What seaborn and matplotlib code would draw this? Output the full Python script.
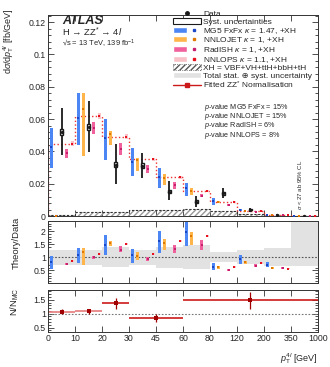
import numpy as np
import matplotlib
matplotlib.use("Agg")
import matplotlib.pyplot as plt
from matplotlib.patches import Patch
from matplotlib.lines import Line2D
from matplotlib.legend_handler import HandlerTuple
from matplotlib.ticker import MultipleLocator, FormatStrFormatter
import seaborn as sns

sns.set_theme(style="ticks")
plt.rcParams["font.family"] = ["Liberation Sans", "DejaVu Sans"]
plt.rcParams["mathtext.fontset"] = "custom"
plt.rcParams["mathtext.rm"] = "Liberation Sans"
plt.rcParams["mathtext.it"] = "Liberation Sans:italic"
plt.rcParams["mathtext.bf"] = "Liberation Sans:bold"

# bin edges (GeV), drawn with equal width
edge_labels = ["0", "10", "20", "30", "45", "60", "80", "120", "200", "350", "1000"]

# measured cross section [fb/GeV]
data = [0.052, 0.0552, 0.0317, 0.0311, 0.015, 0.0089, 0.0141, 0.0038, 0.0008, 0.00005]
data_lo = [0.0375, 0.0396, 0.0198, 0.0237, 0.010, 0.0054, 0.011, 0.0027, 0.0004, 0.0]
data_hi = [0.067, 0.0715, 0.0448, 0.039, 0.0214, 0.0125, 0.0172, 0.0050, 0.0013, 0.0002]
data_syst = [0.002, 0.002, 0.0015, 0.0015, 0.001, 0.0008, 0.0008, 0.0003, 0.0001, 0.0]

# predictions
mg5 = [0.0427, 0.0608, 0.048, 0.0336, 0.0243, 0.0171, 0.0094, 0.0036, 0.0006, 0.00003]
mg5_lo = [0.0298, 0.0438, 0.0344, 0.0245, 0.0175, 0.0125, 0.0069, 0.0029, 0.0005, 0.00002]
mg5_hi = [0.0542, 0.076, 0.0598, 0.042, 0.030, 0.0205, 0.0111, 0.0042, 0.0008, 0.00004]
nnlojet = [0.0, 0.066, 0.0506, 0.0347, 0.0233, 0.0157, 0.0089, 0.0031, 0.0005, 0.00003]
nnlojet_lo = [0.0, 0.037, 0.0438, 0.028, 0.019, 0.0131, 0.0083, 0.0028, 0.0004, 0.00002]
nnlojet_hi = [0.0, 0.076, 0.0525, 0.036, 0.026, 0.0171, 0.0095, 0.0034, 0.0006, 0.00004]
radish = [0.039, 0.0547, 0.0415, 0.029, 0.019, 0.0127, 0.0069, 0.0027, 0.0005, 0.00003]
radish_lo = [0.036, 0.051, 0.038, 0.0264, 0.017, 0.0117, 0.0063, 0.0024, 0.0004, 0.00002]
radish_hi = [0.0417, 0.0583, 0.045, 0.0316, 0.021, 0.0137, 0.0075, 0.0030, 0.0006, 0.00004]
nnlops = [0.0448, 0.062, 0.049, 0.035, 0.024, 0.0157, 0.0087, 0.0034, 0.0006, 0.00003]
nnlops_err = [0.0015, 0.002, 0.0015, 0.0012, 0.0008, 0.0006, 0.0004, 0.0002, 0.0001, 0.0]
xh = [0.0004, 0.0025, 0.0027, 0.0035, 0.0040, 0.0042, 0.0033, 0.0012, 0.0003, 0.00002]

# theory / data
r_mg5 = [0.82, 1.10, 1.49, 1.08, 1.64, 1.96, 0.64, 0.95, 0.72]
r_mg5_lo = [0.57, 0.78, 1.08, 0.78, 1.17, 1.45, 0.50, 0.76, 0.62]
r_mg5_hi = [1.04, 1.36, 1.85, 1.33, 2.00, 2.35, 0.78, 1.10, 0.82]
r_nnlojet = [np.nan, 1.19, 1.55, 1.06, 1.55, 1.81, 0.62, 0.81, 0.59]
r_nnlojet_lo = [np.nan, 0.69, 1.42, 0.88, 1.27, 1.49, 0.56, 0.75, 0.55]
r_nnlojet_hi = [np.nan, 1.36, 1.62, 1.19, 1.72, 1.96, 0.68, 0.87, 0.63]
r_radish = [0.75, 1.00, 1.30, 0.92, 1.33, 1.46, 0.50, 0.68, 0.59]
r_radish_lo = [0.70, 0.95, 1.19, 0.85, 1.17, 1.27, 0.46, 0.63, 0.55]
r_radish_hi = [0.80, 1.05, 1.42, 1.00, 1.49, 1.65, 0.54, 0.73, 0.63]
r_nnlops = [0.85, 1.13, 1.53, 1.13, 1.62, 1.83, 0.62, 0.78, 0.57]
r_nnlops_err = [0.04, 0.04, 0.04, 0.04, 0.04, 0.04, 0.03, 0.03, 0.03]
r_total_lo = [0.72, 0.72, 0.62, 0.72, 0.60, 0.55, 0.81, 0.75, 0.68, 0.68]
r_total_hi = [1.30, 1.30, 1.40, 1.30, 1.40, 1.49, 1.19, 1.27, 1.36, 2.40]

# fitted ZZ* normalisation, regions given as bin index ranges
nn_start = [0, 1, 2, 3, 5]
nn_stop = [1, 2, 3, 5, 10]
nn_val = [1.07, 1.08, 1.37, 0.84, 1.48]
nn_err = [0.10, 0.10, 0.20, 0.13, 0.30]
nn_line_col = ["#e57b7b", "#e57b7b", "#cc1a1a", "#cc1a1a", "#cc1a1a"]

c_mg5, c_mg5_d = "#4c86f5", "#1c46c8"
c_nnlojet, c_nnlojet_d = "#ffb54a", "#e07800"
c_radish, c_radish_d = "#f0609c", "#c8206f"
c_nnlops, c_nnlops_d = "#f9c2c8", "#e8101c"
c_grey = "#e2e2e2"

nb = len(data)
idx = np.arange(nb)
w = 0.11
off = {"mg5": 0.12, "nnlojet": 0.31, "data": 0.5, "radish": 0.7, "nnlops": 0.9}

fig = plt.figure(figsize=(3.3, 3.67), dpi=100)
ax1 = fig.add_axes([0.1455, 0.4114, 0.818, 0.548])
ax2 = fig.add_axes([0.1455, 0.228, 0.818, 0.170])
ax3 = fig.add_axes([0.1455, 0.0962, 0.818, 0.1136])


def pred(ax, x, val, lo, hi, c, cd, ms=1.6):
    lo = np.asarray(lo, float)
    hi = np.asarray(hi, float)
    ax.bar(x, hi - lo, bottom=lo, width=w, color=c, linewidth=0, zorder=3)
    sns.scatterplot(x=x, y=val, ax=ax, color=cd, marker="s", s=ms, linewidth=0, zorder=4, legend=False)


### main panel
edges = np.arange(nb + 1)
ax1.stairs(xh, edges, fill=True, facecolor="none", edgecolor="#999999", hatch="//////", linewidth=0, zorder=1)
ax1.stairs(xh, edges, color="#333333", linestyle=(0, (2, 1.5)), linewidth=0.8, zorder=2)
ax1.stairs(nnlops, edges, color="#ee3030", linestyle=":", linewidth=1.0, zorder=2)

pred(ax1, idx + off["mg5"], mg5, mg5_lo, mg5_hi, c_mg5, c_mg5_d)
pred(ax1, idx + off["nnlojet"], nnlojet, nnlojet_lo, nnlojet_hi, c_nnlojet, c_nnlojet_d)
pred(ax1, idx + off["radish"], radish, radish_lo, radish_hi, c_radish, c_radish_d)
pred(ax1, idx + off["nnlops"], nnlops, np.subtract(nnlops, nnlops_err), np.add(nnlops, nnlops_err),
     c_nnlops, c_nnlops_d, ms=4)

xd = idx + off["data"]
ax1.errorbar(xd, data, yerr=[np.subtract(data, data_lo), np.subtract(data_hi, data)],
             fmt="none", ecolor="k", elinewidth=1.3, zorder=5)
ax1.bar(xd, np.multiply(data_syst, 2), bottom=np.subtract(data, data_syst), width=0.13,
        facecolor="white", edgecolor="k", linewidth=1.0, zorder=6)
sns.scatterplot(x=xd, y=data, ax=ax1, color="k", marker="o", s=6, linewidth=0, zorder=7, legend=False)

ax1.set_xlim(0, nb)
ax1.set_ylim(0, 0.1245)
ax1.yaxis.set_major_locator(MultipleLocator(0.02))
ax1.yaxis.set_minor_locator(MultipleLocator(0.004))
ax1.yaxis.set_major_formatter(FormatStrFormatter("%g"))
ax1.set_ylabel(r"d$\sigma$/d$p_{\mathrm{T}}^{4l}$ [fb/GeV]", fontsize=6.5)
ax1.yaxis.set_label_coords(-0.118, 0.87)

ax1.text(0.051, 0.972, "ATLAS", transform=ax1.transAxes, fontsize=9, weight="bold", style="italic", va="center")
ax1.text(0.051, 0.911, r"H → ZZ$^{*}$ → 4$l$", transform=ax1.transAxes, fontsize=6.8, va="center")
ax1.text(0.051, 0.858, "√s = 13 TeV, 139 fb$^{-1}$", transform=ax1.transAxes, fontsize=5.4, va="center")

pvals = ["$p$-value MG5 FxFx = 15%", "$p$-value NNLOJET = 15%", "$p$-value RadISH = 6%", "$p$-value NNLOPS = 8%"]
for i, t in enumerate(pvals):
    ax1.text(0.578, 0.542 - i * 0.047, t, transform=ax1.transAxes, fontsize=5.2, va="center")

ax1.text(9.33, 0.0192, r"$\sigma$ < 27 ab 95% CL", rotation=90, fontsize=4.3, ha="center", va="center")

handles = [
    Line2D([], [], color="k", marker="o", markersize=2.5, linestyle="none"),
    Patch(facecolor="white", edgecolor="k", linewidth=0.8),
    (Patch(facecolor=c_mg5), Line2D([], [], color=c_mg5_d, marker="s", markersize=1.5, ls="none")),
    (Patch(facecolor=c_nnlojet), Line2D([], [], color=c_nnlojet_d, marker="s", markersize=1.5, ls="none")),
    (Patch(facecolor=c_radish), Line2D([], [], color=c_radish_d, marker="s", markersize=1.5, ls="none")),
    (Patch(facecolor=c_nnlops), Line2D([], [], color=c_nnlops_d, marker="s", markersize=2, ls="none")),
    Patch(facecolor="none", edgecolor="#555555", hatch="//////", linestyle=":", linewidth=0.6),
    Patch(facecolor=c_grey),
    Line2D([], [], color="#cc1a1a", marker="s", markersize=3, lw=1),
]
labels = ["Data", "Syst. uncertainties", r"MG5 FxFx $\kappa$ = 1.47, +XH", r"NNLOJET $\kappa$ = 1, +XH",
          r"RadISH $\kappa$ = 1, +XH", r"NNLOPS $\kappa$ = 1.1, +XH", "XH = VBF+VH+ttH+bbH+tH",
          "Total stat. ⊕ syst. uncertainty", "Fitted ZZ$^{*}$ Normalisation"]
fig.legend(handles, labels, loc="upper left", bbox_to_anchor=(173 / 330, 1 - 10.5 / 367),
           frameon=False, fontsize=6.0, handlelength=3.4, handleheight=0.7, handletextpad=0.25,
           labelspacing=-0.03, borderpad=0, borderaxespad=0,
           handler_map={tuple: HandlerTuple(ndivide=None, pad=0)})

### theory / data
ax2.stairs(r_total_hi, edges, baseline=r_total_lo, fill=True, color=c_grey, linewidth=0, zorder=1)
ax2.axhline(1, color="#555555", linestyle=(0, (1.5, 1.5)), linewidth=0.8, zorder=2)
i9 = idx[:len(r_mg5)]
pred(ax2, i9 + off["mg5"], r_mg5, r_mg5_lo, r_mg5_hi, c_mg5, c_mg5_d)
pred(ax2, i9 + off["nnlojet"], r_nnlojet, r_nnlojet_lo, r_nnlojet_hi, c_nnlojet, c_nnlojet_d)
pred(ax2, i9 + off["radish"], r_radish, r_radish_lo, r_radish_hi, c_radish, c_radish_d)
pred(ax2, i9 + off["nnlops"], r_nnlops, np.subtract(r_nnlops, r_nnlops_err), np.add(r_nnlops, r_nnlops_err),
     c_nnlops, c_nnlops_d, ms=4)
ax2.set_xlim(0, nb)
ax2.set_ylim(0, 2.4)
ax2.set_yticks([0.5, 1, 1.5, 2])
ax2.yaxis.set_minor_locator(MultipleLocator(0.1))
ax2.yaxis.set_major_formatter(FormatStrFormatter("%g"))
ax2.set_ylabel("Theory/Data", fontsize=6.8)
ax2.yaxis.set_label_coords(-0.1, 0.655)

### fitted normalisation
ax3.axhline(1, color="#777777", linestyle=(0, (1.5, 1.5)), linewidth=0.8, zorder=1)
nn_mid = [(a + b) / 2 for a, b in zip(nn_start, nn_stop)]
ax3.hlines(nn_val, nn_start, nn_stop, colors=nn_line_col, linewidth=1.2, zorder=2)
ax3.errorbar(nn_mid, nn_val, yerr=nn_err, fmt="none", ecolor="#a00000", elinewidth=0.9, zorder=3)
sns.scatterplot(x=nn_mid, y=nn_val, ax=ax3, color="#a00000", marker="s", s=7, linewidth=0, zorder=4, legend=False)
ax3.set_xlim(0, nb)
ax3.set_ylim(0.35, 1.85)
ax3.set_yticks([0.5, 1, 1.5])
ax3.yaxis.set_minor_locator(MultipleLocator(0.1))
ax3.yaxis.set_major_formatter(FormatStrFormatter("%g"))
ax3.set_ylabel(r"N/N$_{\mathrm{MC}}$", fontsize=6.8)
ax3.yaxis.set_label_coords(-0.1, 0.72)
ax3.set_xlabel(r"$p_{\mathrm{T}}^{4l}$ [GeV]", loc="right", fontsize=6.5)
ax3.xaxis.set_label_coords(1.0, -0.47)

for ax in (ax1, ax2, ax3):
    ax.set_xticks(edges)
    ax.tick_params(which="both", direction="in", top=True, right=True, labelsize=6.3, pad=1.5,
                   width=0.6, color="#333333")
    ax.tick_params(which="major", length=4)
    ax.tick_params(which="minor", length=2)
    ax.tick_params(axis="x", which="minor", bottom=False, top=False)
    for s in ax.spines.values():
        s.set_linewidth(0.7)
        s.set_color("#333333")
ax1.set_xticklabels([])
ax2.set_xticklabels([])
ax3.set_xticklabels(edge_labels)

fig.savefig("out.png", dpi=100)
